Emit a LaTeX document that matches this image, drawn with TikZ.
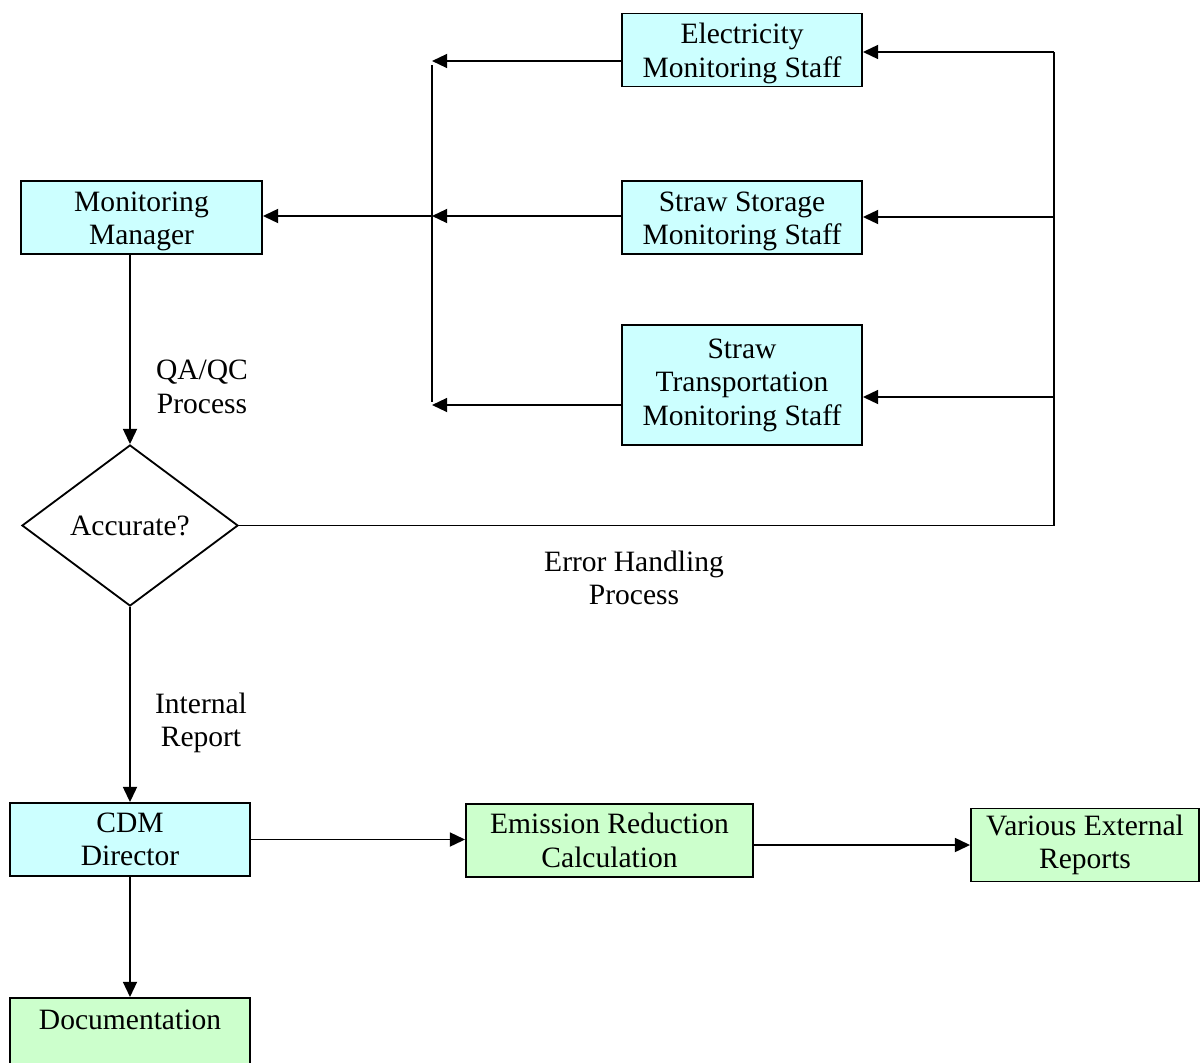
\documentclass[tikz,border=0pt]{standalone}
\usepackage{fontspec}
\setmainfont{Liberation Serif}
\usepackage{tikz}
\usetikzlibrary{shapes, arrows.meta, positioning, calc, backgrounds}

\definecolor{staffcyan}{HTML}{CCFFFF}
\definecolor{reportgreen}{HTML}{CCFFCC}

\begin{document}
\begin{tikzpicture} [
    x=0.025cm, y=-0.025cm,
    box/.style={rectangle, draw=black, line width=1.3pt, fill=staffcyan, minimum width=6cm, minimum height=1.825cm, inner sep=2pt, font=\fontsize{21}{23.8}\selectfont, align=center},
    lowbox/.style={box, text height=1.53cm, inner ysep=1pt},
    outbox/.style={box, fill=reportgreen},
    decision/.style={diamond, draw=black, line width=1.3pt, fill=white, minimum width=5.4cm, minimum height=4.025cm, inner sep=0pt, font=\fontsize{21}{23.8}\selectfont},
    label/.style={font=\fontsize{21}{23.8}\selectfont, align=center},
    arrow/.style={-{Triangle[length=0.38cm, width=0.35cm]}, line width=1.3pt},
    line/.style={line width=1.3pt}
]
\useasboundingbox (0,0) rectangle (1201,1063);

% Define all nodes first
\node[lowbox] (elec) at (742,50) {Electricity\\Monitoring Staff};
\node[lowbox] (storage) at (742,217.5) {Straw Storage\\Monitoring Staff};
\node[box, minimum height=3cm] (transp) at (742,385) {Straw\\Transportation\\Monitoring Staff};
\node[lowbox, minimum width=6.025cm] (manager) at (141.5,217.5) {Monitoring\\Manager};
\node[decision] (accurate) at (130,525.5) {Accurate?};
\node[box] (cdm) at (130,839.5) {CDM\\Director};
\node[outbox, minimum width=7.175cm] (emission) at (609.5,840.5) {Emission Reduction\\Calculation};
\node[outbox, minimum width=5.7cm] (external) at (1085,845) {Various External\\Reports};
\node[outbox, anchor=north, text height=0.58cm, text depth=2cm, inner ysep=0.2cm] (docs) at (130,997) {Documentation};

% Labels on the connectors
\node[label] (qaqc) at (202,387) {QA/QC\\Process};
\node[label] (errhandling) at (634,578) {Error Handling\\Process};
\node[label] (intreport) at (201,723) {Internal\\Report};

% Collector lines
\coordinate (busE) at (432,61);
\coordinate (busS) at (432,216);
\coordinate (busT) at (432,405);
\coordinate (feedE) at (1054,52);
\coordinate (feedS) at (1054,217);
\coordinate (feedT) at (1054,397);
\coordinate (feedA) at (1054,525.5);

% Draw all arrows in background
\begin{scope}[on background layer]
    \draw[arrow] (elec.west |- busE) -- (busE);
    \draw[arrow] (storage.west |- busS) -- (busS);
    \draw[arrow] (transp.west |- busT) -- (busT);
    \draw[line] ($(busE)+(0,4)$) -- ($(busT)+(0,-3)$);
    \draw[arrow] (busS) -- (manager.east |- busS);

    \draw[arrow] (accurate.north |- manager.south) -- (accurate.north);
    \draw[line] (accurate.east) -- (feedA);
    \draw[line] (feedA) -- (feedE);
    \draw[arrow] (feedE) -- (elec.east |- feedE);
    \draw[arrow] (feedS) -- (storage.east |- feedS);
    \draw[arrow] (feedT) -- (transp.east |- feedT);

    \draw[arrow] (accurate.south) -- (cdm.north);
    \draw[arrow] (cdm.south) -- (docs.north);
    \draw[arrow] (cdm.east) -- (emission.west |- cdm.east);
    \draw[arrow] (emission.east |- external.west) -- (external.west);
\end{scope}

\end{tikzpicture}
\end{document}
